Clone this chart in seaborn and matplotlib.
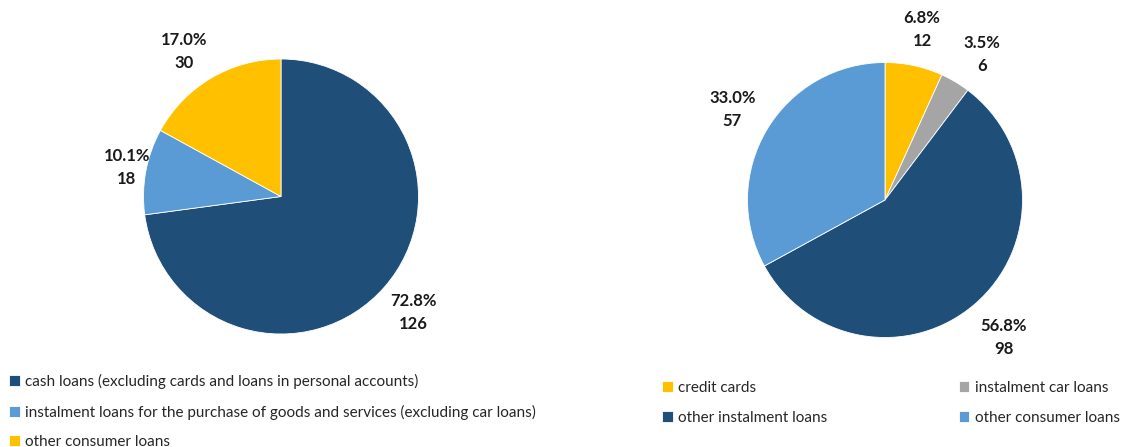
import matplotlib
matplotlib.use("Agg")
import matplotlib.pyplot as plt
import seaborn as sns
import numpy as np

# data
left_labels = ["cash loans (excluding cards and loans in personal accounts)",
               "instalment loans for the purchase of goods and services (excluding car loans)",
               "other consumer loans"]
left_pct = [72.8, 10.1, 17.0]
left_vals = [126, 18, 30]

right_labels = ["credit cards", "instalment car loans",
                "other instalment loans", "other consumer loans"]
right_pct = [6.8, 3.5, 56.8, 33.0]
right_vals = [12, 6, 98, 57]

sns.set_theme(style="white")
plt.rcParams['font.family'] = ['Lato', 'DejaVu Sans']

dark = "#1F4E79"
light = "#5B9BD5"
gold = "#FFC000"
grey = "#A5A5A5"
left_colors = sns.color_palette([dark, light, gold])
right_colors = sns.color_palette([gold, grey, dark, light])

W, H = 1138, 447
fig = plt.figure(figsize=(W / 100, H / 100), dpi=100)


def pie_axes(cx, cy, r):
    return fig.add_axes([(cx - r) / W, (H - cy - r) / H, 2 * r / W, 2 * r / H])


def draw_pie(ax, pct, vals, colors, dists, shifts):
    wedges, _ = ax.pie(pct, colors=colors, startangle=90, counterclock=False,
                       radius=1, wedgeprops=dict(linewidth=0.6, edgecolor="white"))
    # pie resets the limits, so set them afterwards
    ax.set_xlim(-1, 1)
    ax.set_ylim(-1, 1)
    ax.set_aspect("equal")
    ax.axis("off")
    for w, p, v, d, s in zip(wedges, pct, vals, dists, shifts):
        ang = np.deg2rad((w.theta1 + w.theta2) / 2 + s)
        ax.text(d * np.cos(ang), d * np.sin(ang), f"{p:.1f}%\n{v}",
                ha="center", va="center", fontsize=12, fontweight="bold",
                color="#1a1a1a", linespacing=1.55, clip_on=False)
    return wedges


axl = pie_axes(281, 196.5, 137.5)
wl = draw_pie(axl, left_pct, left_vals, left_colors,
              [1.28, 1.14, 1.27], [0, 0, 3])

axr = pie_axes(885, 200, 137.5)
wr = draw_pie(axr, right_pct, right_vals, right_colors,
              [1.27, 1.27, 1.32, 1.29], [0, -3, 0, 0])

fig.legend(wl, left_labels, loc="upper left", bbox_to_anchor=(3 / W, 1 - 368 / H),
           ncol=1, frameon=False, fontsize=11, handlelength=0.7, handleheight=0.7,
           handletextpad=0.35, labelspacing=1.0, borderaxespad=0)

order = [0, 2, 1, 3]
fig.legend([wr[i] for i in order], [right_labels[i] for i in order],
           loc="upper left", bbox_to_anchor=(656 / W, 1 - 375 / H),
           ncol=2, frameon=False, fontsize=11, handlelength=0.7, handleheight=0.7,
           handletextpad=0.35, labelspacing=1.05, columnspacing=8.6, borderaxespad=0)

fig.savefig("out.png", dpi=100)
